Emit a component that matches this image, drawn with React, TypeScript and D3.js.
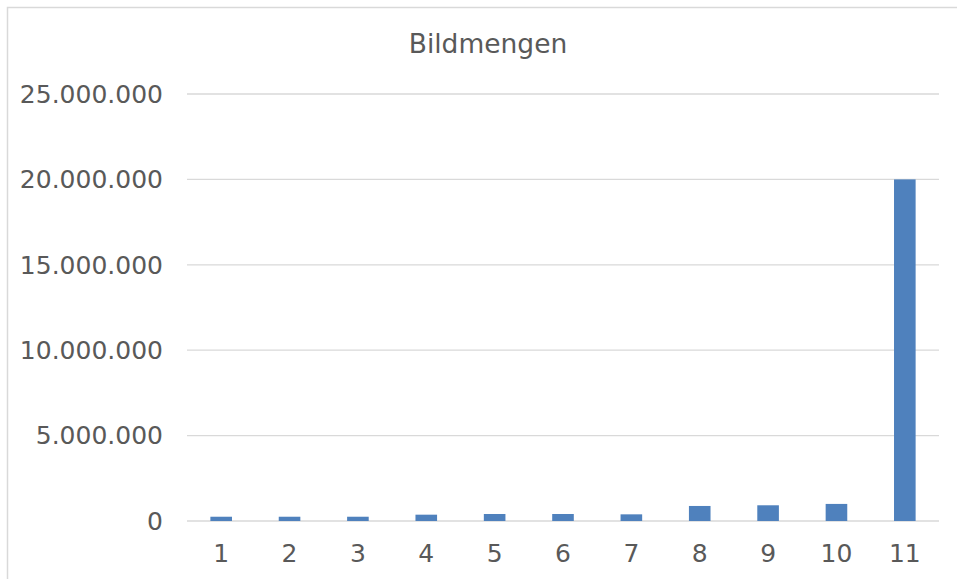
import { useEffect, useRef } from "react";
import * as d3 from "d3";

const categories = ["1", "2", "3", "4", "5", "6", "7", "8", "9", "10", "11"];
const values = [250000, 250000, 250000, 370000, 410000, 410000, 390000, 880000, 920000, 1000000, 20000000];
const yTicks = [0, 5000000, 10000000, 15000000, 20000000, 25000000];
const title = "Bildmengen";

const W = 957,
  H = 579;
const margin = { top: 94, right: 18, bottom: 58, left: 187 };
const textColor = "#595959";
const font = "'DejaVu Sans', Verdana, sans-serif";

const deFormat = d3.formatLocale({ decimal: ",", thousands: ".", grouping: [3], currency: ["", " €"] }).format(",d");

function draw(node: SVGSVGElement) {
  const svg = d3.select(node);
  svg.selectAll("*").remove();

  // chart frame (runs off the right and bottom edges)
  svg
    .append("rect")
    .attr("x", 7.5)
    .attr("y", 7.5)
    .attr("width", W + 20)
    .attr("height", H + 20)
    .attr("fill", "#fff")
    .attr("stroke", "#d9d9d9")
    .attr("stroke-width", 1.5);

  const x = d3
    .scaleBand()
    .domain(categories)
    .range([margin.left, W - margin.right])
    .padding(0);
  const y = d3
    .scaleLinear()
    .domain([0, 25000000])
    .range([H - margin.bottom, margin.top]);

  const barW = x.bandwidth() * 0.316;

  svg
    .append("g")
    .selectAll("line")
    .data(yTicks)
    .join("line")
    .attr("x1", margin.left)
    .attr("x2", W - margin.right)
    .attr("y1", (d) => y(d))
    .attr("y2", (d) => y(d))
    .attr("stroke", "#d9d9d9")
    .attr("stroke-width", 1.3);

  svg
    .append("g")
    .selectAll("text")
    .data(yTicks)
    .join("text")
    .attr("x", 163)
    .attr("y", (d) => y(d))
    .attr("dy", "0.35em")
    .attr("text-anchor", "end")
    .attr("font-family", font)
    .attr("font-size", 25)
    .attr("fill", textColor)
    .text((d) => deFormat(d));

  svg
    .append("g")
    .selectAll("rect")
    .data(values)
    .join("rect")
    .attr("x", (_, i) => x(categories[i])! + x.bandwidth() / 2 - barW / 2)
    .attr("y", (d) => y(d))
    .attr("width", barW)
    .attr("height", (d) => y(0) - y(d))
    .attr("fill", "#4f81bd");

  svg
    .append("g")
    .selectAll("text")
    .data(categories)
    .join("text")
    .attr("x", (d) => x(d)! + x.bandwidth() / 2)
    .attr("y", 562)
    .attr("text-anchor", "middle")
    .attr("font-family", font)
    .attr("font-size", 25)
    .attr("fill", textColor)
    .text((d) => d);

  svg
    .append("text")
    .attr("x", 488)
    .attr("y", 53)
    .attr("text-anchor", "middle")
    .attr("font-family", font)
    .attr("font-size", 26.5)
    .attr("fill", textColor)
    .text(title);
}

export default function App() {
  const ref = useRef<SVGSVGElement>(null);
  useEffect(() => {
    if (ref.current) draw(ref.current);
  }, []);
  return (
    <svg
      ref={ref}
      width={W}
      height={H}
      style={{ position: "fixed", left: 0, top: 0, display: "block", background: "#fff" }}
    />
  );
}
